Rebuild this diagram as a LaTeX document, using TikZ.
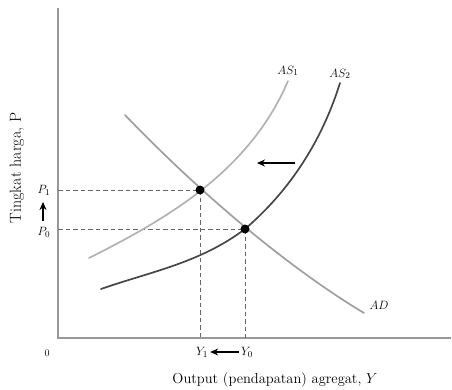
\documentclass[tikz,border=0pt]{standalone}
\usepackage{tikz}
\usetikzlibrary{calc}
\usetikzlibrary{arrows.meta}
\tikzstyle{dot}=[circle,fill=black, minimum size = 9pt, inner sep=0pt]
\tikzstyle{guide}=[black!60, line width=0.8pt, dash pattern=on 4.5pt off 3pt]
\tikzstyle{curve}=[line width=1.7pt, line cap=round]
\tikzstyle{movearrow}=[-{Stealth[length=8pt,width=7pt]}, line width=1.3pt]
\tikzstyle{lbl}=[font=\fontsize{13}{15}\selectfont, inner sep=1pt]
\tikzstyle{title}=[font=\fontsize{14.5}{17}\selectfont, inner sep=1pt]

\begin{document}
\begin{tikzpicture}[x=1pt, y=-1pt]
    \useasboundingbox (0,0) rectangle (452,390);

    %axes
    \coordinate (top) at (58,8);
    \coordinate (origin) at (58,338);
    \coordinate (right) at (451,338);
    \draw [gray!80, line width=1.3pt] (top) -- (origin) -- (right);
    \node [lbl, font=\fontsize{10}{12}\selectfont] (zero) at (47,353) {0};

    %equilibria
    \coordinate (E1) at (200,190);
    \coordinate (E0) at (245,229);
    \coordinate (p1) at (58,190);
    \coordinate (p0) at (58,229);
    \coordinate (y1) at (200,338);
    \coordinate (y0) at (245,338);

    %guides
    \draw [guide] (p1) -- (E1);
    \draw [guide] (p0) -- (E0);
    \draw [guide] (E1) -- (y1);
    \draw [guide] (E0) -- (y0);

    %AD
    \draw [curve, gray!75] (125,115) .. controls (195,188) and (284,265) .. (364,313);

    %AS1
    \draw [curve, gray!60] (89,258) .. controls (169,218) and (250,170) .. (288,81);

    %AS2
    \draw [curve, black!72] (101,289) .. controls (151,271.5) and (200,263) .. (E0)
        .. controls (280,199) and (318,153) .. (340,83);

    \node [dot] (e1) at (E1) {};
    \node [dot] (e0) at (E0) {};

    %curve labels
    \node [lbl] (as1) at (288,71) {$AS_1$};
    \node [lbl] (as2) at (340,74) {$AS_2$};
    \node [lbl] (ad) at (379,305) {$AD$};

    %price labels
    \node [lbl] (P1) at (44,190) {$P_1$};
    \node [lbl] (P0) at (44,232) {$P_0$};
    \coordinate (pa) at (43,221);
    \coordinate (pb) at (43,202);
    \draw [movearrow] (pa) -- (pb);

    %output labels
    \node [lbl] (Y1) at (202,352) {$Y_1$};
    \node [lbl] (Y0) at (247,352) {$Y_0$};
    \draw [movearrow] ($(Y0.west)+(-1,0)$) -- ($(Y1.east)+(1,0)$);

    %shift of AS
    \coordinate (sa) at (295,163);
    \coordinate (sb) at (257,163);
    \draw [movearrow] (sa) -- (sb);

    %axis titles
    \node [title] (xlab) at (275,380) {Output (pendapatan) agregat, $Y$};
    \node [title, font=\fontsize{16}{18}\selectfont, rotate=90] (ylab) at (17,168) {Tingkat harga, P};
\end{tikzpicture}
\end{document}
